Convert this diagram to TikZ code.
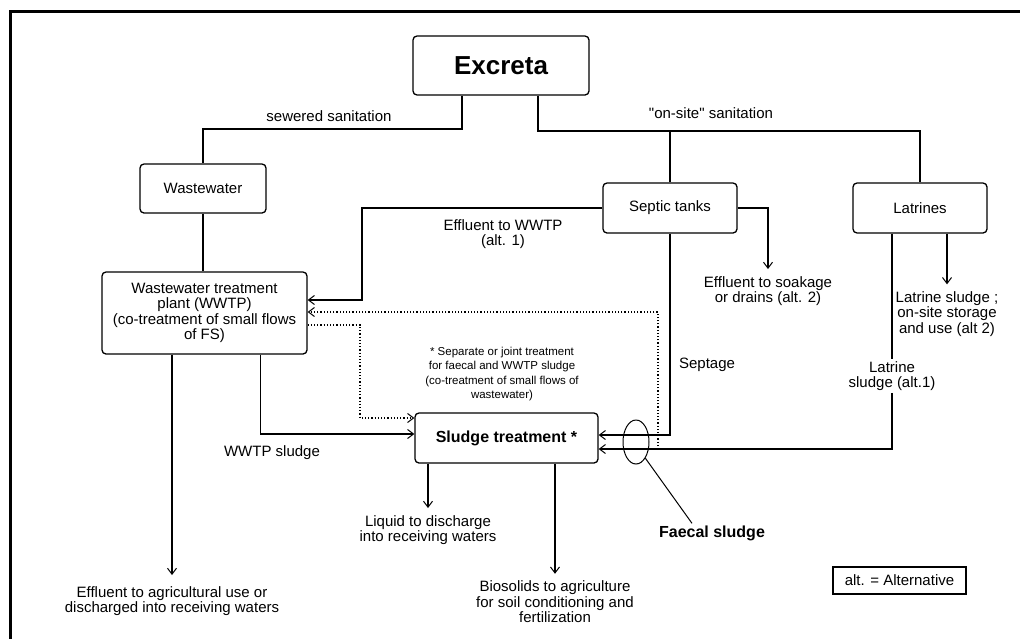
\documentclass[tikz,border=0pt]{standalone}
\usepackage{fontspec}
\setmainfont{Liberation Sans}
\usetikzlibrary{arrows.meta,shapes.geometric}

\newcommand{\diatxt}{\fontsize{15}{15.5}\selectfont}
\newcommand{\diasmall}{\fontsize{11.5}{14.3}\selectfont}

\tikzset{
  box/.style={draw, line width=1.3pt, rounded corners=4pt, align=center, font=\diatxt},
  lbl/.style={align=center, font=\diatxt, inner sep=2pt},
  tgt/.style={lbl, inner sep=7pt},
  flow/.style={line width=1.2pt},
  arr/.style={flow, -{Straight Barb[length=6pt,width=9pt,line width=1pt]}},
}

\begin{document}
\begin{tikzpicture}[x=1pt,y=-1pt]
\useasboundingbox (0,0) rectangle (1020,638);
\draw[line width=3pt] (10,645) -- (10,11) -- (1025,11);

\node[box, minimum width=176pt, minimum height=59pt, font=\bfseries\fontsize{26}{28}\selectfont] (excreta) at (501,65.5) {Excreta};
\node[box, minimum width=126pt, minimum height=49pt] (wastewater) at (203,188.5) {Wastewater};
\node[box, minimum width=134pt, minimum height=50pt] (septic) at (670,208) {Septic tanks};
\node[box, minimum width=134pt, minimum height=50pt] (latrines) at (920,208) {Latrines};
\node[box, minimum width=205pt, minimum height=82pt] (wwtp) at (204.5,313) {Wastewater treatment\\plant (WWTP)\\(co-treatment of small flows\\of FS)};
\node[box, minimum width=183pt, minimum height=50pt, font=\bfseries\fontsize{16}{18}\selectfont] (sludge) at (506.5,438) {Sludge treatment *};
\node[draw, line width=1.5pt, minimum width=133pt, minimum height=27pt, font=\diatxt] (alt) at (899.5,580.5) {alt. = Alternative};

\node[lbl] (sewered) at (329,116) {sewered sanitation};
\node[lbl] (onsite) at (711,113) {\textquotedbl on-site\textquotedbl{} sanitation};
\node[lbl] (eff1) at (503,234) {Effluent to WWTP\\(alt. 1)};
\node[tgt] (soak) at (768,291) {Effluent to soakage\\or drains (alt. 2)};
\node[lbl] (septage) at (707,365) {Septage};
\node[lbl] (lat1) at (892,376) {Latrine\\sludge (alt.1)};
\node[tgt] (lat2) at (947,314) {Latrine sludge ;\\on-site storage\\and use (alt 2)};
\node[lbl] (wwtpsl) at (272,453) {WWTP sludge};
\node[lbl, font=\diasmall] (note) at (502,374) {* Separate or joint treatment\\for faecal and WWTP sludge\\(co-treatment of small flows of\\wastewater)};
\node[tgt, inner sep=11pt] (effag) at (172,601) {Effluent to agricultural use or\\discharged into receiving waters};
\node[tgt] (liquid) at (428,530) {Liquid to discharge\\into receiving waters};
\node[tgt] (bio) at (555,602) {Biosolids to agriculture\\for soil conditioning and\\fertilization};
\node[lbl, font=\bfseries\fontsize{16}{18}\selectfont] (fslab) at (712,533) {Faecal sludge};

\coordinate (sewbend) at (203,129);
\coordinate (sitebend) at (920,131);
\coordinate (e1bend) at (362,300);
\coordinate (d1bend) at (360,418);
\coordinate (d2start) at (658,446);

\draw[flow] ([xshift=-39pt]excreta.south) |- (sewbend) -- (wastewater.north);
\draw[flow] ([xshift=37pt]excreta.south) |- (sitebend) -- (latrines.north);
\draw[flow] (septic.north) -- (septic.north |- sitebend);
\draw[flow] (wastewater.south) -- (wastewater.south |- wwtp.north);

\draw[arr] (septic.west) -| (e1bend) -- (e1bend -| wwtp.east);
\draw[arr] (septic.east) -| (soak.north);
\draw[arr] (septic.south) |- ([yshift=3pt]sludge.east);
\draw[flow] (lat1.north |- latrines.south) -- (lat1.north);
\draw[arr] (lat1.south) |- ([yshift=-11pt]sludge.east);
\draw[arr] (lat2.north |- latrines.south) -- (lat2.north);

\draw[arr] (effag.north |- wwtp.south) -- (effag.north);
\draw[arr] ([xshift=56pt]wwtp.south) |- ([yshift=4pt]sludge.west);
\draw[arr, dotted] ([yshift=-12pt]wwtp.east) -| (d1bend) -- (d1bend -| sludge.west);
\draw[arr, dotted] (d2start) |- ([yshift=1pt]wwtp.east);

\draw[arr] (liquid.north |- sludge.south) -- (liquid.north);
\draw[arr] (bio.north |- sludge.south) -- (bio.north);

\node[draw, ellipse, line width=1pt, minimum width=26pt, minimum height=44pt] (fsloop) at (636,442) {};
\draw[line width=1pt] (fsloop.300) -- ([xshift=-20pt]fslab.north);

\end{tikzpicture}
\end{document}
